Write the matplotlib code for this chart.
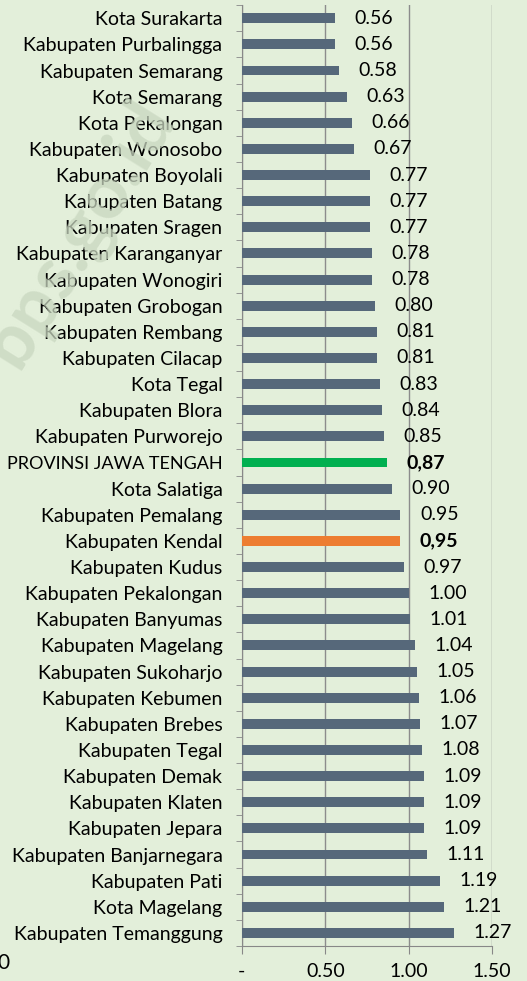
import matplotlib
matplotlib.use("Agg")
from matplotlib import pyplot as plt

plt.rcParams['font.family'] = ['Lato', 'DejaVu Sans']

regions = ["Kota Surakarta", "Kabupaten Purbalingga", "Kabupaten Semarang", "Kota Semarang",
           "Kota Pekalongan", "Kabupaten Wonosobo", "Kabupaten Boyolali", "Kabupaten Batang",
           "Kabupaten Sragen", "Kabupaten Karanganyar", "Kabupaten Wonogiri", "Kabupaten Grobogan",
           "Kabupaten Rembang", "Kabupaten Cilacap", "Kota Tegal", "Kabupaten Blora",
           "Kabupaten Purworejo", "PROVINSI JAWA TENGAH", "Kota Salatiga", "Kabupaten Pemalang",
           "Kabupaten Kendal", "Kabupaten Kudus", "Kabupaten Pekalongan", "Kabupaten Banyumas",
           "Kabupaten Magelang", "Kabupaten Sukoharjo", "Kabupaten Kebumen", "Kabupaten Brebes",
           "Kabupaten Tegal", "Kabupaten Demak", "Kabupaten Klaten", "Kabupaten Jepara",
           "Kabupaten Banjarnegara", "Kabupaten Pati", "Kota Magelang", "Kabupaten Temanggung"]
values = [0.56, 0.56, 0.58, 0.63, 0.66, 0.67, 0.77, 0.77, 0.77, 0.78, 0.78, 0.80,
          0.81, 0.81, 0.83, 0.84, 0.85, 0.87, 0.90, 0.95, 0.95, 0.97, 1.00, 1.01,
          1.04, 1.05, 1.06, 1.07, 1.08, 1.09, 1.09, 1.09, 1.11, 1.19, 1.21, 1.27]
highlight = {"PROVINSI JAWA TENGAH": "#00B050", "Kabupaten Kendal": "#ED7D31"}
xticks = [0, 0.5, 1.0, 1.5]
xticklabels = ["-", "0.50", "1.00", "1.50"]

bg = "#E3EFDA"
base = "#56687A"
fs = 14

fig = plt.figure(figsize=(5.27, 9.81), dpi=100, facecolor=bg)
# faint watermark behind the chart
fig.text(0.15, 0.762, "bps.go.id", fontsize=54, fontweight="bold", color="#C9D7C0",
         alpha=0.75, rotation=58, ha="center", va="center", zorder=0)
ax = fig.add_axes([0.459, 0.0357, 0.475, 0.959])
ax.set_facecolor("none")

n = len(regions)
ypos = list(range(n))
colors = [highlight.get(r, base) for r in regions]
ax.barh(ypos, values, height=0.38, color=colors, zorder=3)

for y, v, r in zip(ypos, values, regions):
    if r in highlight:
        ax.annotate(f"{v:.2f}".replace(".", ","), (v, y), xytext=(14, 0), textcoords="offset points",
                    va="center", ha="left", fontsize=fs, fontweight="bold", color="black")
    else:
        ax.annotate(f"{v:.2f}", (v, y), xytext=(14, 0), textcoords="offset points",
                    va="center", ha="left", fontsize=fs, color="black")

ax.set_ylim(n - 0.5, -0.5)
ax.set_xlim(0, 1.5)
ax.set_yticks(ypos)
ax.set_yticklabels(regions, fontsize=fs)
for lbl in ax.get_yticklabels():
    if lbl.get_text().isupper():
        lbl.set_fontsize(13)
ax.set_yticks([i - 0.5 for i in range(n + 1)], minor=True)
ax.tick_params(axis="y", which="major", length=0, pad=14)
ax.tick_params(axis="y", which="minor", length=4, color="#888888", direction="out")
ax.set_xticks(xticks)
ax.set_xticklabels(xticklabels, fontsize=fs)
ax.tick_params(axis="x", length=6, color="#888888", pad=6)
ax.grid(axis="x", color="#8C8C8C", linewidth=1, zorder=0)

for s in ["top", "right"]:
    ax.spines[s].set_visible(False)
for s in ["left", "bottom"]:
    ax.spines[s].set_color("#888888")

fig.text(-0.005, 0.008, "0", fontsize=fs + 1, ha="left", va="bottom")

fig.savefig("out.png", dpi=100, facecolor=bg)
